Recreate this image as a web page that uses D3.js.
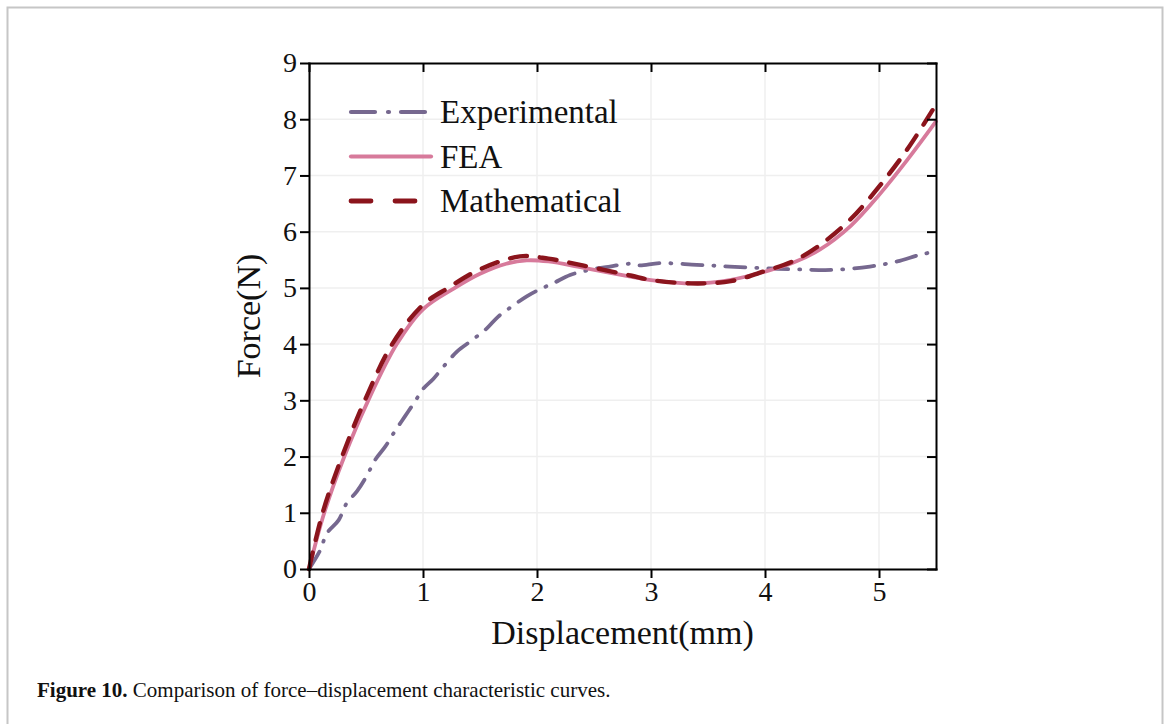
<!DOCTYPE html>
<html>
<head>
<meta charset="utf-8">
<title>Force-displacement</title>
<style>
  body { margin: 0; background: #fff; }
  svg text { font-family: 'Liberation Serif', 'Times New Roman', serif; fill: #111; }
  .grid line { stroke: #efefef; stroke-width: 1.5; }
  .axis path, .axis line { stroke: #000; stroke-width: 2; }
</style>
<script src="https://d3js.org/d3.v7.min.js"></script>
</head>
<body>
<svg id="chart" width="1168" height="724"></svg>
<script>
// data
var xTicks = [0, 1, 2, 3, 4, 5];
var yTicks = [0, 1, 2, 3, 4, 5, 6, 7, 8, 9];

var dispExp  = [0, 0.10, 0.155, 0.26, 0.33, 0.42, 0.51, 0.58, 0.67, 0.75, 0.84, 0.93, 1.0, 1.09, 1.18, 1.30, 1.43, 1.56, 1.66, 1.78, 1.91, 2.03, 2.14, 2.29, 2.46, 2.64, 2.82, 2.9, 3.08, 3.40, 3.69, 3.99, 4.28, 4.60, 4.92, 5.16, 5.36, 5.5];
var forceExp = [0, 0.34, 0.63, 0.87, 1.17, 1.38, 1.67, 1.94, 2.18, 2.44, 2.71, 2.98, 3.20, 3.38, 3.60, 3.87, 4.07, 4.28, 4.49, 4.67, 4.85, 4.98, 5.08, 5.23, 5.32, 5.38, 5.43, 5.40, 5.44, 5.41, 5.38, 5.35, 5.33, 5.32, 5.38, 5.47, 5.59, 5.65];

var dispFEA  = [0, 0.134, 0.31, 0.52, 0.77, 1.0, 1.28, 1.5, 1.73, 1.91, 2.1, 2.4, 2.82, 3.0, 3.37, 3.69, 4.0, 4.25, 4.48, 4.75, 5.0, 5.25, 5.5];
var forceFEA = [0, 1.0, 2.0, 3.0, 4.0, 4.62, 5.0, 5.25, 5.43, 5.49, 5.47, 5.36, 5.20, 5.14, 5.08, 5.14, 5.29, 5.45, 5.68, 6.10, 6.65, 7.28, 7.96];

var dispMath  = [0, 0.12, 0.29, 0.49, 0.73, 1.0, 1.22, 1.5, 1.85, 2.1, 2.4, 2.82, 3.0, 3.35, 3.7, 4.0, 4.25, 4.48, 4.75, 5.0, 5.25, 5.5];
var forceMath = [0, 1.0, 2.0, 3.0, 4.0, 4.70, 5.0, 5.33, 5.56, 5.52, 5.40, 5.22, 5.14, 5.08, 5.12, 5.30, 5.48, 5.76, 6.22, 6.80, 7.47, 8.26];

var seriesNames = ["Experimental", "FEA", "Mathematical"];

var svg = d3.select("#chart");

// page frame
svg.append("rect")
  .attr("x", 7.5).attr("y", 7.5)
  .attr("width", 1155).attr("height", 800)
  .attr("fill", "none").attr("stroke", "#c6c6c6").attr("stroke-width", 2);

var pL = 309, pR = 936, pT = 63, pB = 569;
var x = d3.scaleLinear().domain([0, 5.5]).range([pL, pR]);
var y = d3.scaleLinear().domain([0, 9]).range([pB, pT]);

// grid
svg.append("g").attr("class", "grid")
  .selectAll("line").data(xTicks.slice(1)).enter().append("line")
  .attr("x1", d => x(d)).attr("x2", d => x(d)).attr("y1", pT).attr("y2", pB);
svg.append("g").attr("class", "grid")
  .selectAll("line").data(yTicks.slice(1, -1)).enter().append("line")
  .attr("x1", pL).attr("x2", pR).attr("y1", d => y(d)).attr("y2", d => y(d));

// curves
var styles = [
  {dx: dispExp, fy: forceExp, color: "#76688f", width: 3.8, dash: "20 11 1 11"},
  {dx: dispFEA, fy: forceFEA, color: "#d77a9b", width: 3.8, dash: null},
  {dx: dispMath, fy: forceMath, color: "#8b141c", width: 4.4, dash: "17 13"}
];
var line = d3.line().curve(d3.curveCatmullRom.alpha(0.5));
styles.forEach(function(s) {
  var pts = s.dx.map((d, k) => [x(d), y(s.fy[k])]);
  svg.append("path")
    .attr("d", line(pts))
    .attr("fill", "none")
    .attr("stroke", s.color)
    .attr("stroke-width", s.width)
    .attr("stroke-linecap", "round")
    .attr("stroke-dasharray", s.dash);
});

// axes
var fmt = d3.format("d");
svg.append("g").attr("class", "axis")
  .attr("transform", "translate(0," + pB + ")")
  .call(d3.axisBottom(x).tickValues(xTicks).tickFormat(fmt).tickSize(9).tickSizeOuter(0).tickPadding(3))
  .selectAll("text").style("font-size", "28px").attr("dy", "0.72em");
svg.append("g").attr("class", "axis")
  .attr("transform", "translate(0," + pT + ")")
  .call(d3.axisTop(x).tickValues(xTicks).tickFormat("").tickSize(-9).tickSizeOuter(0));
svg.append("g").attr("class", "axis")
  .attr("transform", "translate(" + pL + ",0)")
  .call(d3.axisLeft(y).tickValues(yTicks).tickFormat(fmt).tickSize(9).tickSizeOuter(0).tickPadding(3))
  .selectAll("text").style("font-size", "28px");
svg.append("g").attr("class", "axis")
  .attr("transform", "translate(" + pR + ",0)")
  .call(d3.axisRight(y).tickValues(yTicks).tickFormat("").tickSize(-9).tickSizeOuter(0));
svg.selectAll(".axis .domain").attr("stroke-linecap", "square");

// axis titles
svg.append("text")
  .attr("x", (pL + pR) / 2).attr("y", 644)
  .attr("text-anchor", "middle")
  .style("font-size", "34px")
  .text("Displacement(mm)");
svg.append("text")
  .attr("transform", "translate(260," + (pT + pB) / 2 + ") rotate(-90)")
  .attr("text-anchor", "middle")
  .style("font-size", "34px")
  .text("Force(N)");

// legend
var legend = svg.append("g");
seriesNames.forEach(function(name, i) {
  var s = styles[i];
  var ly = 112 + i * 44.5;
  legend.append("line")
    .attr("x1", 351).attr("x2", 431).attr("y1", ly).attr("y2", ly)
    .attr("stroke", s.color).attr("stroke-width", s.width + 0.4)
    .attr("stroke-linecap", "round")
    .attr("stroke-dasharray", i === 0 ? "24 13 1 12" : i === 2 ? "20 24" : null);
  legend.append("text")
    .attr("x", 440).attr("y", ly + 11)
    .style("font-size", "33px")
    .text(name);
});

// caption
var cap = svg.append("text").attr("x", 37).attr("y", 697).style("font-size", "21px");
cap.append("tspan").style("font-weight", "bold").text("Figure 10.");
cap.append("tspan").text(" Comparison of force\u2013displacement characteristic curves.");
</script>
</body>
</html>
